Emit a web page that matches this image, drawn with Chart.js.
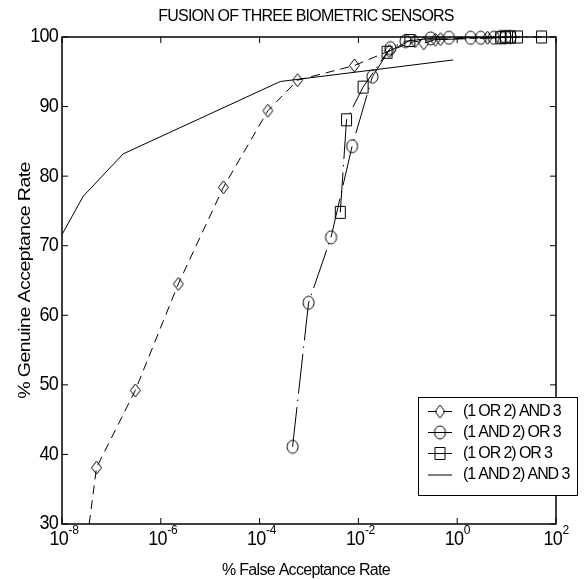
<!DOCTYPE html>
<html>
<head>
<meta charset="utf-8">
<title>Fusion of three biometric sensors</title>
<script src="https://cdn.jsdelivr.net/npm/chart.js@4.4.1/dist/chart.umd.min.js"></script>
<style>
  html,body{margin:0;padding:0;background:#fff;}
  #wrap{width:585px;height:580px;}
</style>
</head>
<body>
<div id="wrap"><canvas id="roc" width="585" height="580"></canvas></div>
<script>
const xMin = 1e-8, xMax = 1e2;
const yMin = 30, yMax = 100;
const xTickExp = [-8, -6, -4, -2, 0, 2];
const yTicks = [30, 40, 50, 60, 70, 80, 90, 100];

const chartTitle = 'FUSION OF THREE BIOMETRIC SENSORS';
const xTitle = '% False Acceptance Rate';
const yTitle = '% Genuine Acceptance Rate';
const seriesNames = ['(1 OR 2) AND 3', '(1 AND 2) OR 3', '(1 OR 2) OR 3', '(1 AND 2) AND 3'];

// (1 OR 2) AND 3 - diamonds, dashed
const orAndFar = [3.55e-8, 5.0e-8, 3.04e-7, 2.26e-6, 1.85e-5, 1.47e-4, 5.87e-4, 8.3e-3, 0.042, 0.14, 0.21, 0.36, 0.46, 4.1];
const orAndGar = [30, 38.1, 49.2, 64.5, 78.4, 89.4, 93.8, 95.9, 98.0, 99.4, 99.1, 99.6, 99.7, 99.9];
// (1 AND 2) OR 3 - circles, dash-dot
const andOrFar = [4.65e-4, 9.8e-4, 2.79e-3, 7.45e-3, 0.0192, 0.0446, 0.09, 0.29, 0.68, 1.87, 3.0, 5.5, 7.6, 9.5, 12];
const andOrGar = [41.1, 61.8, 71.2, 84.3, 94.3, 98.4, 99.4, 99.8, 99.9, 99.9, 99.9, 99.9, 100, 100, 100];
// (1 OR 2) OR 3 - squares, dash-dot
const orOrFar = [4.3e-3, 5.75e-3, 0.01245, 0.038, 0.11, 7.6, 9.5, 12, 16.6, 51];
const orOrGar = [74.8, 88.1, 92.8, 97.8, 99.5, 99.9, 100, 100, 100, 100];
// (1 AND 2) AND 3 - solid
const andAndFar = [1e-8, 2.68e-8, 1.73e-7, 2.62e-4, 0.83];
const andAndGar = [71.6, 77.1, 83.2, 93.6, 96.7];

const FONT = '"Liberation Sans", Arial, sans-serif';
const zip = (xs, ys) => xs.map((v, i) => ({x: v, y: ys[i]}));

function marker(kind){
  const c = document.createElement('canvas');
  c.width = 15; c.height = 17;
  const g = c.getContext('2d');
  const cx = 7.5, cy = 8.5;
  g.strokeStyle = '#000'; g.lineWidth = 1;
  g.beginPath();
  if (kind === 'circle') g.ellipse(cx, cy, 5.5, 6.5, 0, 0, Math.PI*2);
  else if (kind === 'diamond'){ g.moveTo(cx, cy-6.5); g.lineTo(cx+5, cy); g.lineTo(cx, cy+6.5); g.lineTo(cx-5, cy); g.closePath(); }
  else g.rect(cx-5, cy-6, 10, 12);
  g.stroke();
  return c;
}
const mk = {diamond: marker('diamond'), circle: marker('circle'), square: marker('square')};

const dashA = [9, 6], dashDot = [40, 6, 1.5, 6];

function txt(ctx, s, x, y, o){
  ctx.save();
  ctx.translate(x, y);
  if (o.rot) ctx.rotate(o.rot);
  ctx.scale(o.sx || 1, o.sy || 1);
  ctx.font = o.font;
  ctx.letterSpacing = o.ls || '0px';
  ctx.textAlign = o.align || 'left';
  ctx.textBaseline = o.base || 'alphabetic';
  ctx.fillStyle = '#000';
  ctx.fillText(s, 0, 0);
  ctx.restore();
}

const decor = {
  id: 'decor',
  afterDraw(chart){
    const {ctx, chartArea: a, scales: {x, y}} = chart;
    ctx.save();
    ctx.strokeStyle = '#000';
    ctx.lineWidth = 1.5;
    ctx.strokeRect(a.left, a.top, a.right - a.left, a.bottom - a.top);

    // inward ticks on all sides
    ctx.lineWidth = 1;
    ctx.beginPath();
    xTickExp.forEach(e => {
      const px = x.getPixelForValue(10 ** e);
      ctx.moveTo(px, a.bottom); ctx.lineTo(px, a.bottom - 6);
      ctx.moveTo(px, a.top); ctx.lineTo(px, a.top + 6);
    });
    yTicks.forEach(v => {
      const py = y.getPixelForValue(v);
      ctx.moveTo(a.left, py); ctx.lineTo(a.left + 6, py);
      ctx.moveTo(a.right, py); ctx.lineTo(a.right - 6, py);
    });
    ctx.stroke();

    // tick labels
    xTickExp.forEach(e => {
      const px = x.getPixelForValue(10 ** e);
      txt(ctx, '10', px - 12.5, a.bottom + 21, {font: '18px ' + FONT, ls: '-0.8px', sy: 1.1});
      txt(ctx, String(e), px + 6.5, a.bottom + 9.5, {font: '12px ' + FONT, ls: '-0.3px', sy: 1.1});
    });
    yTicks.forEach(v => {
      txt(ctx, String(v), a.left - 4, y.getPixelForValue(v), {font: '18px ' + FONT, ls: '-0.8px', sy: 1.1, align: 'right', base: 'middle'});
    });

    // titles
    txt(ctx, chartTitle, 306, 20.5, {font: '16px ' + FONT, ls: '-0.8px', align: 'center'});
    txt(ctx, xTitle, 306, 575, {font: '16px ' + FONT, ls: '-0.7px', align: 'center'});
    txt(ctx, yTitle, 30, (a.top + a.bottom) / 2, {font: '17px ' + FONT, ls: '-0.5px', align: 'center', rot: -Math.PI/2, sx: 1.15});

    // legend box
    const lx = 418.5, ly = 397.5, lw = 159, lh = 98;
    ctx.fillStyle = '#fff';
    ctx.fillRect(lx, ly, lw, lh);
    ctx.lineWidth = 1;
    ctx.strokeRect(lx, ly, lw, lh);
    const rows = [411.5, 432.5, 453.5, 475];
    chart.data.datasets.forEach((ds, i) => {
      const ry = rows[i];
      ctx.save();
      ctx.setLineDash(ds.borderDash || []);
      ctx.beginPath(); ctx.moveTo(428, ry); ctx.lineTo(452, ry); ctx.stroke();
      ctx.restore();
      if (ds.legendMarker) ctx.drawImage(ds.legendMarker, 440 - 7.5, ry - 8.5);
      txt(ctx, ds.label, 463, ry, {font: '16px ' + FONT, ls: '-1.1px', base: 'middle'});
    });
    ctx.restore();
  }
};

const base = {showLine: true, borderColor: '#000', borderWidth: 1, tension: 0, clip: false, backgroundColor: 'transparent'};

new Chart(document.getElementById('roc'), {
  type: 'scatter',
  data: {
    datasets: [
      {...base, label: seriesNames[0], data: zip(orAndFar, orAndGar), borderDash: dashA,
        pointStyle: mk.diamond, legendMarker: mk.diamond, pointRadius: orAndFar.map((_, i) => i === 0 ? 0 : 4)},
      {...base, label: seriesNames[1], data: zip(andOrFar, andOrGar), borderDash: dashDot,
        pointStyle: mk.circle, legendMarker: mk.circle, pointRadius: 4},
      {...base, label: seriesNames[2], data: zip(orOrFar, orOrGar), borderDash: dashDot,
        pointStyle: mk.square, legendMarker: mk.square, pointRadius: 4},
      {...base, label: seriesNames[3], data: zip(andAndFar, andAndGar), pointRadius: 0}
    ]
  },
  options: {
    responsive: false,
    animation: false,
    events: [],
    layout: {padding: {left: 62, right: 29, top: 37, bottom: 56}},
    scales: {
      x: {type: 'logarithmic', min: xMin, max: xMax, display: false},
      y: {type: 'linear', min: yMin, max: yMax, display: false}
    },
    plugins: {legend: {display: false}, tooltip: {enabled: false}, title: {display: false}}
  },
  plugins: [decor]
});
</script>
</body>
</html>
